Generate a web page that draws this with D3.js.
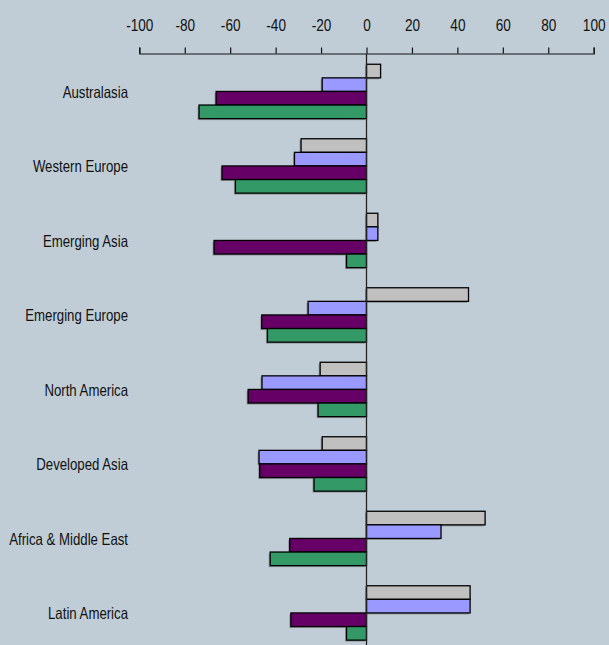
<!DOCTYPE html>
<html>
<head>
    <meta charset="utf-8">
    <script src="https://d3js.org/d3.v7.min.js"></script>
    <style>
        body { margin: 0; background: #c0cdd6; }
        text { font-family: "Liberation Sans", Arial, sans-serif; fill: #111; }
    </style>
</head>
<body>
</body>
<script>
    let regions = ["Australasia", "Western Europe", "Emerging Asia", "Emerging Europe",
                   "North America", "Developed Asia", "Africa & Middle East", "Latin America"];
    let series = ["s1", "s2", "s3", "s4"];
    let s1 = [6.2, -28.8, 5.0, 44.9, -20.4, -19.5, 52.2, 45.6];
    let s2 = [-19.5, -31.7, 5.0, -25.7, -46.0, -47.3, 32.8, 45.6];
    let s3 = [-66.2, -63.6, -67.1, -46.1, -52.1, -47.0, -33.8, -33.3];
    let s4 = [-73.7, -57.7, -8.8, -43.6, -21.3, -23.1, -42.4, -8.8];
    let tickValues = [-100, -80, -60, -40, -20, 0, 20, 40, 60, 80, 100];
    let colors = ["#c0c0c0", "#9999ff", "#660066", "#339966"];

    let width = 609, height = 645;
    let narrow = 0.8; // no narrow font installed, squeeze horizontally

    let svg = d3.select("body").append("svg")
        .attr("width", width)
        .attr("height", height);

    svg.append("rect").attr("width", width).attr("height", height).attr("fill", "#c0cdd6");

    let x = d3.scaleLinear().domain([-100, 100]).range([139.3, 593.7]);

    let y = d3.scaleBand()
        .domain(regions)
        .range([54.2, 650.2])
        .paddingInner(0.27)
        .paddingOuter(0.135);

    let yInner = d3.scaleBand().domain(series).range([0, y.bandwidth()]);

    let table = regions.map((r, i) => ({
        region: r,
        values: [s1[i], s2[i], s3[i], s4[i]]
    }));

    // axis on top
    let axis = d3.axisTop(x).tickValues(tickValues).tickSize(6).tickPadding(17).tickFormat(d => String(d));
    let gAxis = svg.append("g").attr("transform", "translate(0,53.5)").call(axis);
    gAxis.select(".domain").attr("stroke", "#111").attr("stroke-width", 1.2);
    gAxis.selectAll(".tick line").attr("stroke", "#111").attr("stroke-width", 1.2);
    gAxis.selectAll(".tick text")
        .attr("font-size", 17)
        .attr("fill", "#111")
        .style("font-family", null)
        .attr("transform", `scale(${narrow},1)`);

    let groups = svg.append("g").selectAll("g")
        .data(table)
        .join("g")
        .attr("transform", d => `translate(0,${y(d.region)})`);

    // slight shadow
    groups.selectAll("rect.shadow")
        .data(d => d.values)
        .join("rect")
        .attr("class", "shadow")
        .attr("x", v => Math.min(x(v), x(0)) - 1.5)
        .attr("y", (v, i) => yInner(series[i]) + 1.5)
        .attr("width", v => Math.abs(x(v) - x(0)))
        .attr("height", yInner.bandwidth())
        .attr("fill", "#555")
        .attr("opacity", 0.45);

    groups.selectAll("rect.bar")
        .data(d => d.values)
        .join("rect")
        .attr("class", "bar")
        .attr("x", v => Math.min(x(v), x(0)))
        .attr("y", (v, i) => yInner(series[i]))
        .attr("width", v => Math.abs(x(v) - x(0)))
        .attr("height", yInner.bandwidth())
        .attr("fill", (v, i) => colors[i])
        .attr("stroke", "#000")
        .attr("stroke-width", 1.3);

    // zero line
    svg.append("line")
        .attr("x1", x(0)).attr("x2", x(0))
        .attr("y1", 53.5).attr("y2", height)
        .attr("stroke", "#222")
        .attr("stroke-width", 1.3);

    // category labels
    svg.append("g").selectAll("text")
        .data(regions)
        .join("text")
        .attr("transform", d => `translate(128,${y(d) + y.bandwidth() / 2 + 0.5}) scale(${narrow},1)`)
        .attr("dy", "0.35em")
        .attr("text-anchor", "end")
        .attr("font-size", 16.5)
        .text(d => d);
</script>
</html>
